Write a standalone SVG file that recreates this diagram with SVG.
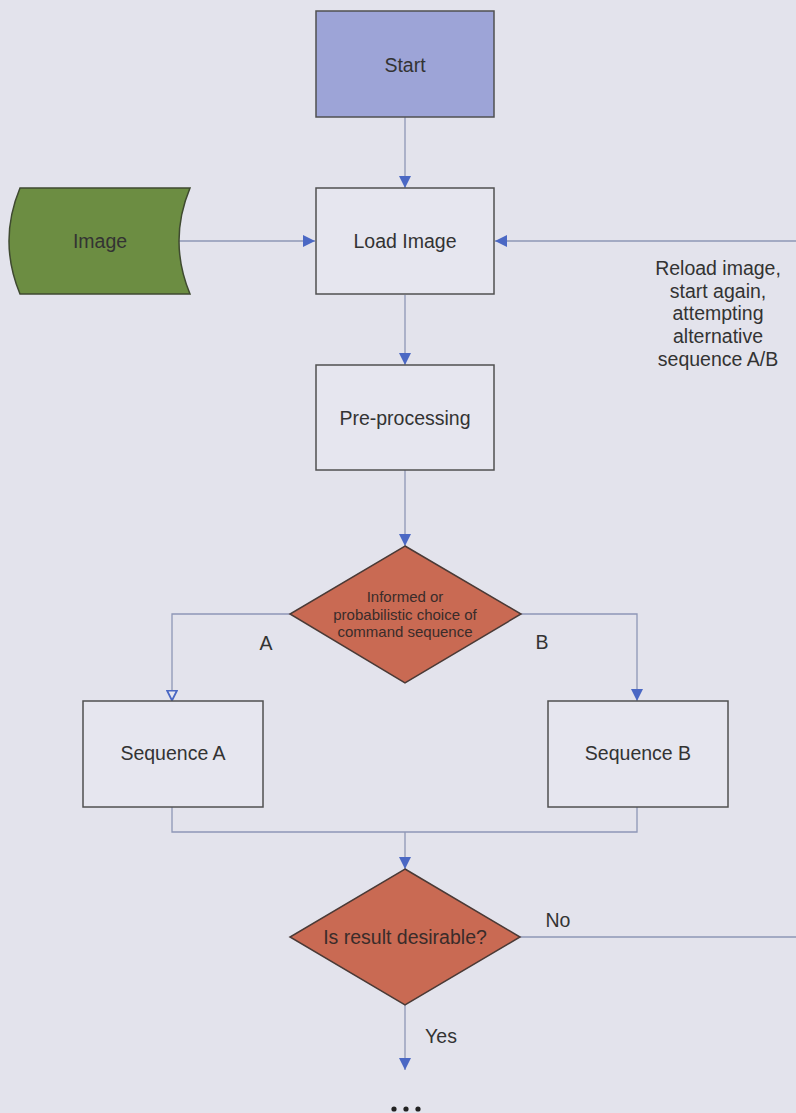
<svg xmlns="http://www.w3.org/2000/svg" width="796" height="1113" viewBox="0 0 796 1113">
  <style>
    .bg { fill: #e3e3ec; }
    .box { fill: #e6e6ef; stroke: #505050; stroke-width: 1.5; }
    .start { fill: #9da4d7; stroke: #505050; stroke-width: 1.5; }
    .data { fill: #6c8d42; stroke: #3f4a30; stroke-width: 1.5; }
    .decision { fill: #c96a53; stroke: #4a3a36; stroke-width: 1.5; }
    .edge { fill: none; stroke: #8e97b6; stroke-width: 1.3; }
    .label { font-family: "Liberation Sans", Arial, sans-serif; font-size: 19.5px; fill: #333333; text-anchor: middle; }
    .small { font-family: "Liberation Sans", Arial, sans-serif; font-size: 15px; fill: #3a2c2a; text-anchor: middle; }
    .dlabel { fill: #3a2c2a; }
  </style>
  <defs>
    <marker id="arrow" viewBox="0 0 12 12" refX="12" refY="6" markerWidth="12" markerHeight="12" markerUnits="userSpaceOnUse" orient="auto">
      <path d="M0,0 L12,6 L0,12 Z" fill="#4b68c4"/>
    </marker>
    <marker id="arrow-open" viewBox="0 0 12 12" refX="11.5" refY="6" markerWidth="12" markerHeight="12" markerUnits="userSpaceOnUse" orient="auto">
      <path d="M1,1 L11,6 L1,11 Z" fill="#e6e6ef" stroke="#4b68c4" stroke-width="1.8"/>
    </marker>
  </defs>

  <rect class="bg" x="0" y="0" width="796" height="1113"/>

  <!-- connectors -->
  <g id="connectors">
    <line class="edge" x1="405" y1="117" x2="405" y2="188" marker-end="url(#arrow)"/>
    <line class="edge" x1="176" y1="241" x2="315" y2="241" marker-end="url(#arrow)"/>
    <line class="edge" x1="796" y1="241" x2="495" y2="241" marker-end="url(#arrow)"/>
    <line class="edge" x1="405" y1="295" x2="405" y2="365" marker-end="url(#arrow)"/>
    <line class="edge" x1="405" y1="470" x2="405" y2="546" marker-end="url(#arrow)"/>
    <polyline class="edge" points="290,614 172,614 172,701" marker-end="url(#arrow-open)"/>
    <polyline class="edge" points="521,614 637,614 637,701" marker-end="url(#arrow)"/>
    <polyline class="edge" points="172,807 172,832 637,832 637,807"/>
    <line class="edge" x1="405" y1="832" x2="405" y2="869" marker-end="url(#arrow)"/>
    <line class="edge" x1="520" y1="937" x2="796" y2="937"/>
    <line class="edge" x1="405" y1="1005" x2="405" y2="1070" marker-end="url(#arrow)"/>
    <text class="label" x="266" y="650">A</text>
    <text class="label" x="542" y="649">B</text>
    <text class="label" x="558" y="927">No</text>
    <text class="label" x="441" y="1043">Yes</text>
    <text class="label" x="718" y="275">Reload image,</text>
    <text class="label" x="718" y="298">start again,</text>
    <text class="label" x="718" y="320">attempting</text>
    <text class="label" x="718" y="343">alternative</text>
    <text class="label" x="718" y="366">sequence A/B</text>
  </g>

  <g id="start">
    <rect class="start" x="316" y="11" width="178" height="106"/>
    <text class="label" x="405" y="72">Start</text>
  </g>

  <g id="image">
    <path class="data" d="M20,188 L190,188 Q168,241 190,294 L20,294 Q-2,241 20,188 Z"/>
    <text class="label" x="100" y="248">Image</text>
  </g>

  <g id="load-image">
    <rect class="box" x="316" y="188" width="178" height="106"/>
    <text class="label" x="405" y="248">Load Image</text>
  </g>

  <g id="pre-processing">
    <rect class="box" x="316" y="365" width="178" height="105"/>
    <text class="label" x="405" y="425">Pre-processing</text>
  </g>

  <g id="choice">
    <polygon class="decision" points="405,546 521,614 405,683 290,614"/>
    <text class="small" x="405" y="602">Informed or</text>
    <text class="small" x="405" y="620">probabilistic choice of</text>
    <text class="small" x="405" y="637">command sequence</text>
  </g>

  <g id="sequence-a">
    <rect class="box" x="83" y="701" width="180" height="106"/>
    <text class="label" x="173" y="760">Sequence A</text>
  </g>

  <g id="sequence-b">
    <rect class="box" x="548" y="701" width="180" height="106"/>
    <text class="label" x="638" y="760">Sequence B</text>
  </g>

  <g id="result-check">
    <polygon class="decision" points="405,869 520,937 405,1005 290,937"/>
    <text class="label dlabel" x="405" y="944">Is result desirable?</text>
  </g>

  <g id="continuation">
    <circle cx="394" cy="1109" r="2.6" fill="#222"/>
    <circle cx="406" cy="1109" r="2.6" fill="#222"/>
    <circle cx="418" cy="1109" r="2.6" fill="#222"/>
  </g>
</svg>
